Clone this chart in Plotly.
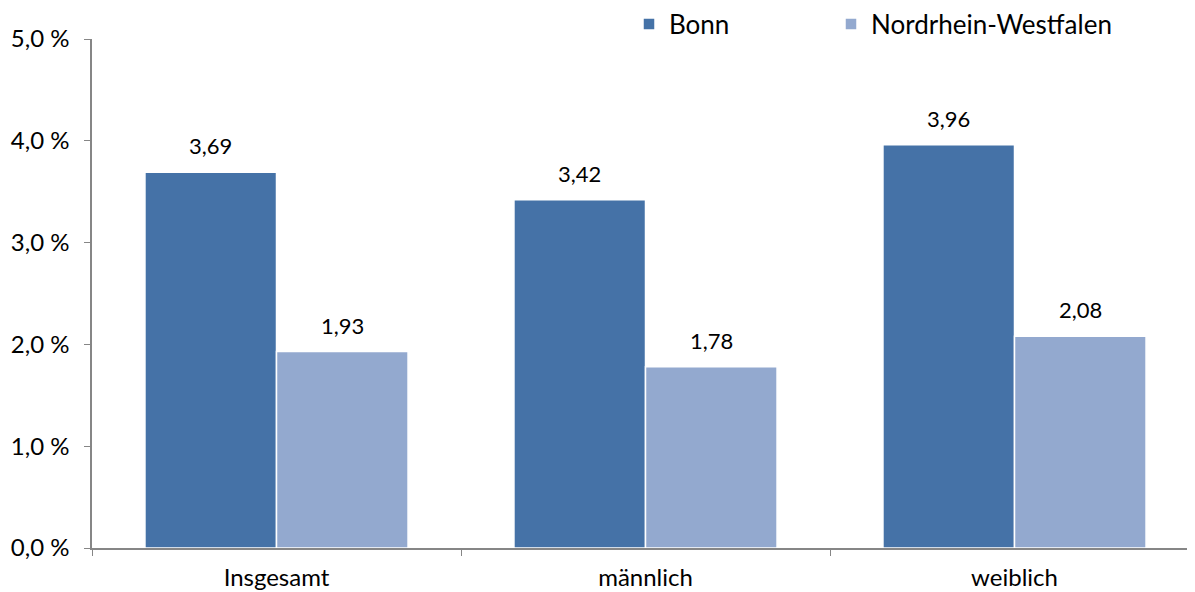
import plotly.graph_objects as go

categories = ["Insgesamt", "männlich", "weiblich"]
bonn = [3.69, 3.42, 3.96]
nrw = [1.93, 1.78, 2.08]
series_names = ["Bonn", "Nordrhein-Westfalen"]
y_ticks = [0, 1, 2, 3, 4, 5]
y_ticktext = [f"{v:.1f}".replace(".", ",") + " %" for v in y_ticks]

FONT = "Lato"
c_bonn = "#4572A7"
c_nrw = "#93A9CF"

fig = go.Figure()
fig.add_trace(go.Bar(x=categories, y=bonn, name=series_names[0], legend="legend",
                     marker=dict(color=c_bonn, line=dict(color="white", width=1.5))))
fig.add_trace(go.Bar(x=categories, y=nrw, name=series_names[1], legend="legend2",
                     marker=dict(color=c_nrw, line=dict(color="white", width=1.5))))

# data labels
bar_px = 131.5
for vals, xs in ((bonn, -bar_px / 2), (nrw, bar_px / 2)):
    for cat, v in zip(categories, vals):
        fig.add_annotation(x=cat, y=v, text=f"{v:.2f}".replace(".", ","),
                           showarrow=False, xshift=xs, yshift=11, yanchor="bottom",
                           font=dict(family=FONT, size=22, color="#000000"))

leg_common = dict(orientation="h", xref="container", yref="container",
                  xanchor="left", yanchor="middle",
                  font=dict(family=FONT, size=26, color="#000000"),
                  bgcolor="rgba(0,0,0,0)")

fig.update_layout(
    width=1195, height=592,
    margin=dict(l=84, r=4, t=31, b=52, autoexpand=False),
    paper_bgcolor="white", plot_bgcolor="white",
    barmode="group", bargap=0.287, bargroupgap=0,
    font=dict(family=FONT, size=23, color="#000000"),
    showlegend=True,
    legend=dict(x=621 / 1195, y=1 - 16 / 592, **leg_common),
    legend2=dict(x=823 / 1195, y=1 - 16 / 592, **leg_common),
    xaxis=dict(range=[-0.5, 2.5], showline=True, linecolor="#868686", linewidth=1.5,
               ticks="outside", tickson="boundaries", ticklen=6, tickcolor="#868686",
               tickwidth=1, showgrid=False, zeroline=False, ticklabelstandoff=7,
               tickfont=dict(family=FONT, size=24, color="#000000")),
    yaxis=dict(range=[0, 5], tickvals=y_ticks, ticktext=y_ticktext,
               showline=True, linecolor="#868686", linewidth=1.5,
               ticks="outside", ticklen=6, tickcolor="#868686", tickwidth=1,
               showgrid=False, zeroline=False, ticklabelstandoff=10,
               tickfont=dict(family=FONT, size=24, color="#000000")),
)

fig.write_html("out.html")
